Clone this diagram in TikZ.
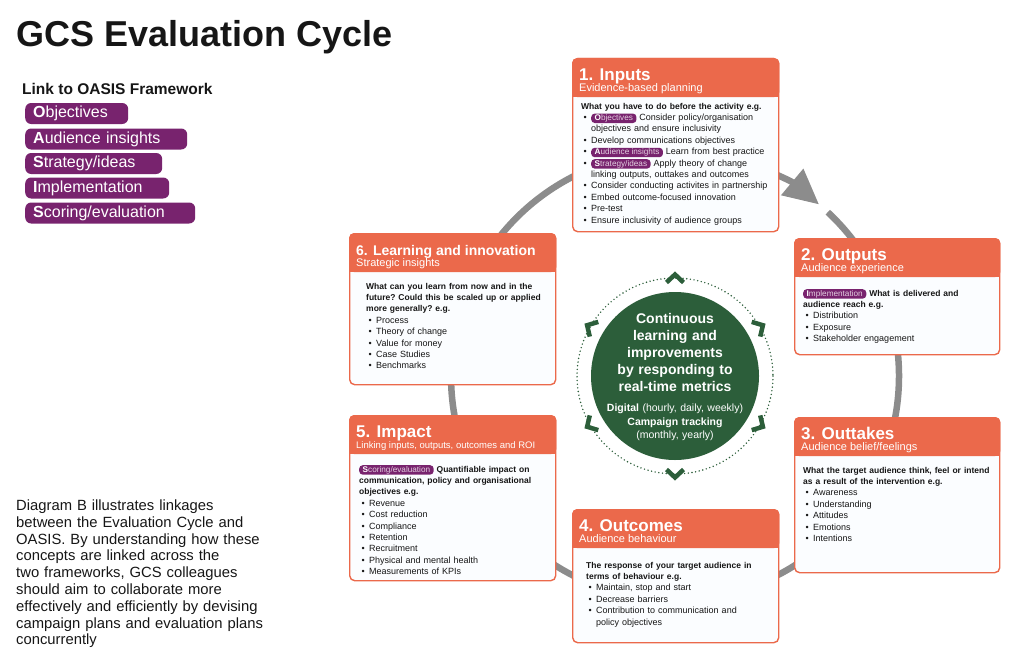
\documentclass[tikz,border=0pt]{standalone}
\usepackage{fontspec}
\setmainfont{Liberation Sans}
\usepackage{tikz}
\usetikzlibrary{calc,arrows.meta,positioning}
\definecolor{hdrc}{HTML}{EB694B}
\definecolor{oasisc}{HTML}{78236E}
\definecolor{lavc}{HTML}{E3CFE0}
\definecolor{greenc}{HTML}{2C5E3A}
\definecolor{ringc}{HTML}{8C8C8C}
\definecolor{inkc}{HTML}{161616}
\definecolor{bodyc}{HTML}{FBFDFF}
\tikzset{
  cyclering/.style={line width=6.5pt,ringc},
  dotring/.style={greenc,line width=1.6pt,dash pattern=on 0pt off 3.7pt,line cap=round},
  chev/.style={greenc,line width=4.5pt,miter limit=10},
  hubtxt/.style={white,align=center,inner sep=0pt,anchor=base,text width=170pt},
  stagebox/.style={draw=hdrc,line width=1.4pt,fill=bodyc,rounded corners=5pt,inner sep=0pt,anchor=north west},
  stitle/.style={anchor=base west,inner sep=0pt,white,font=\fontsize{17}{20}\selectfont\bfseries},
  ssub/.style={anchor=base west,inner sep=0pt,white,font=\fontsize{11}{13}\selectfont},
  sbody/.style={anchor=base west,inner sep=0pt,inkc,align=left,font=\fontsize{9}{11.4}\selectfont\frenchspacing},
  pill/.style={text width={},fill=oasisc,rounded corners=3.5pt,inner xsep=3.5pt,inner ysep=0.9pt,text height=5.9pt,text depth=1.7pt,text=lavc,font=\fontsize{8.2}{8}\selectfont},
  oasispill/.style={fill=oasisc,rounded corners=6pt,inner xsep=8pt,inner ysep=0pt,minimum height=21pt,text=white,font=\fontsize{16}{18}\selectfont,anchor=west,align=left}
}
\newcommand{\oasistag}[2]{\tikz[baseline=(p.base)]\node[pill](p){\textcolor{white}{\bfseries #1}#2};}
\newcommand{\bul}{\par\noindent\hangindent=10pt\hangafter=1\hbox to 10pt{\hspace{2.5pt}\textbullet\hfil}}
\newcommand{\hd}[1]{{\fontsize{8.5}{11.4}\selectfont\bfseries #1}}
\newcommand{\stagecard}[7]{
  \node[stagebox,minimum width=#4pt,minimum height=#5pt] (#1) at (#2,#3) {};
  \fill[hdrc,rounded corners=5pt] (#1.north west) rectangle ([yshift=-39pt]#1.north east);
  \fill[hdrc] ([yshift=-30pt]#1.north west) rectangle ([yshift=-39pt]#1.north east);
  \node[stitle] (#1-t) at ([xshift=7pt,yshift=-22pt]#1.north west) {#6};
  \node[ssub] (#1-s) at ([xshift=7pt,yshift=-33.5pt]#1.north west) {#7};
}

\begin{document}
\begin{tikzpicture}[x=1pt,y=-1pt]
\useasboundingbox (0,0) rectangle (1024,669);
\coordinate (c) at (675,376);
\draw[cyclering] ([shift={(-47:224)}]c) arc[start angle=-47,end angle=285,radius=224];
\draw[cyclering,-{Triangle[length=35pt,width=33pt]}] ([shift={(-78:224)}]c) arc[start angle=-78,end angle=-50,radius=224];

\node[anchor=base west,inner sep=0pt,inkc,font=\fontsize{36}{40}\selectfont\bfseries] (ttl) at (16,46) {GCS Evaluation Cycle};
\node[anchor=base west,inner sep=0pt,inkc,font=\fontsize{15.5}{18}\selectfont\bfseries] (leg) at (22,94) {Link to OASIS Framework};
\node[oasispill,text width=87pt] (lgO) at (25,113.5) {\textbf{O}bjectives};
\node[oasispill,text width=146pt] (lgA) at (25,139) {\textbf{A}udience insights};
\node[oasispill,text width=121pt] (lgS) at (25,163.5) {\textbf{S}trategy/ideas};
\node[oasispill,text width=128pt] (lgI) at (25,188) {\textbf{I}mplementation};
\node[oasispill,text width=154pt] (lgE) at (25,213) {\textbf{S}coring/evaluation};
\node[anchor=base west,inner sep=0pt,text width=280pt,align=left,inkc,font=\fontsize{14.8}{16.8}\selectfont] (note) at (16,510.5) {Diagram B illustrates linkages\\between the Evaluation Cycle and\\OASIS. By understanding how these\\concepts are linked across the\\two frameworks, GCS colleagues\\should aim to collaborate more\\effectively and efficiently by devising\\campaign plans and evaluation plans\\concurrently};

\stagecard{in}{572}{58}{206}{173}{1. Inputs}{Evidence-based planning}
\node[sbody,text width=194pt] (in-b) at ([xshift=9pt,yshift=-51pt]in.north west) {\hd{What you have to do before the activity e.g.}
\bul \oasistag{O}{bjectives} Consider policy/organisation\newline objectives and ensure inclusivity
\bul Develop communications objectives
\bul \oasistag{A}{udience insights} Learn from best practice
\bul \oasistag{S}{trategy/ideas} Apply theory of change\newline linking outputs, outtakes and outcomes
\bul Consider conducting activites in partnership
\bul Embed outcome-focused innovation
\bul Pre-test
\bul Ensure inclusivity of audience groups\par};

\stagecard{out}{794}{238}{205}{116}{2. Outputs}{Audience experience}
\node[sbody,text width=192pt] (out-b) at ([xshift=9pt,yshift=-58pt]out.north west) {\oasistag{I}{mplementation} \hd{What is delivered and\newline audience reach e.g.}
\bul Distribution
\bul Exposure
\bul Stakeholder engagement\par};

\stagecard{otk}{794}{417}{205}{155}{3. Outtakes}{Audience belief/feelings}
\node[sbody,text width=192pt] (otk-b) at ([xshift=9pt,yshift=-56pt]otk.north west) {\hd{What the target audience think, feel or intend\newline as a result of the intervention e.g.}
\bul Awareness
\bul Understanding
\bul Attitudes
\bul Emotions
\bul Intentions\par};

\stagecard{otc}{572}{509}{206}{133}{4. Outcomes}{Audience behaviour}
\node[sbody,text width=188pt] (otc-b) at ([xshift=14pt,yshift=-59pt]otc.north west) {\hd{The response of your target audience in\newline terms of behaviour e.g.}
\bul Maintain, stop and start
\bul Decrease barriers
\bul Contribution to communication and\newline policy objectives\par};

\stagecard{imp}{349}{415}{206}{165}{5. Impact}{\fontsize{9.5}{11}\selectfont Linking inputs, outputs, outcomes and ROI}
\node[sbody,text width=192pt] (imp-b) at ([xshift=10pt,yshift=-57pt]imp.north west) {\oasistag{S}{coring/evaluation} \hd{Quantifiable impact on\newline communication, policy and organisational\newline objectives e.g.}
\bul Revenue
\bul Cost reduction
\bul Compliance
\bul Retention
\bul Recruitment
\bul Physical and mental health
\bul Measurements of KPIs\par};

\stagecard{lrn}{349}{233}{206}{151}{\fontsize{14}{16}\selectfont 6. Learning and innovation}{Strategic insights}
\node[sbody,text width=185pt] (lrn-b) at ([xshift=17pt,yshift=-56pt]lrn.north west) {\hd{What can you learn from now and in the\newline future? Could this be scaled up or applied\newline more generally? e.g.}
\bul Process
\bul Theory of change
\bul Value for money
\bul Case Studies
\bul Benchmarks\par};

\draw[dotring] (c) circle[radius=98];
\node[circle,fill=greenc,minimum size=168pt,inner sep=0pt] (hub) at (c) {};
\foreach \a in {90,30,-30,-90,-150,150}
  \draw[chev,shift={($(c)+(-\a:98)$)},rotate=\a] (-4.5,-8.5) -- (3.5,0) -- (-4.5,8.5);
\node[hubtxt,font=\fontsize{14}{16.9}\selectfont\bfseries] (hub-t) at (675,323.5) {Continuous\\learning and\\improvements\\by responding to\\real-time metrics};
\node[hubtxt,font=\fontsize{10.5}{13.6}\selectfont] (hub-m) at (675,411.7) {\textbf{Digital} (hourly, daily, weekly)\\\textbf{Campaign tracking}\\(monthly, yearly)};
\end{tikzpicture}
\end{document}
